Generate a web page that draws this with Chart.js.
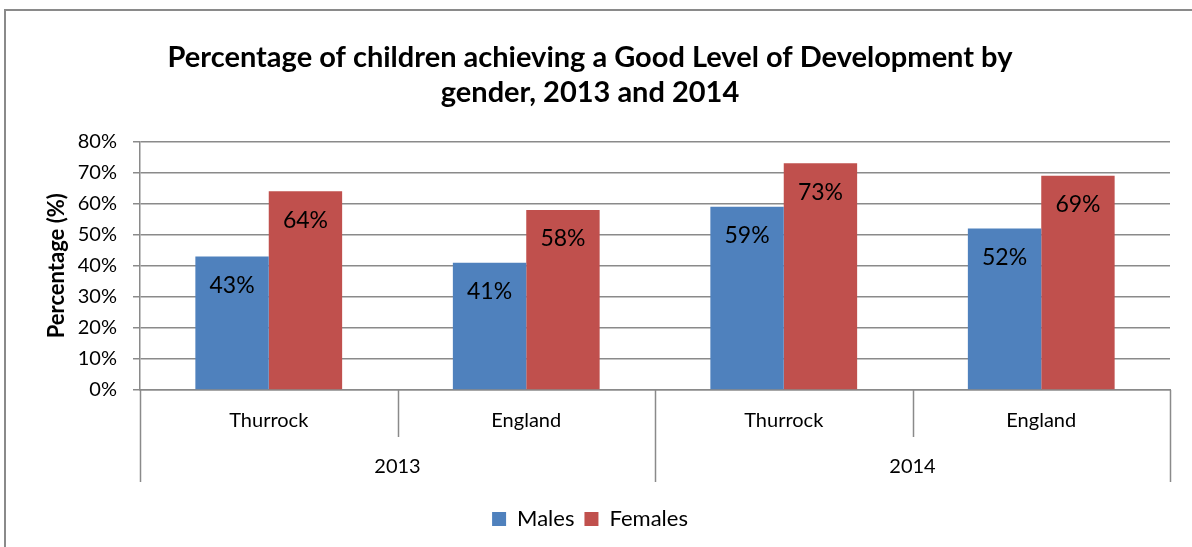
<!DOCTYPE html>
<html>
<head>
<meta charset="utf-8">
<script src="https://cdn.jsdelivr.net/npm/chart.js@4.4.1/dist/chart.umd.min.js"></script>
<style>
  html, body { margin: 0; padding: 0; background: #fff; }
  #wrap { width: 1192px; height: 547px; }
</style>
</head>
<body>
<div id="wrap"><canvas id="mycanvas" width="1192" height="547"></canvas></div>
<script>
// data
var categories = ['Thurrock', 'England', 'Thurrock', 'England'];
var groups = ['2013', '2014'];
var males = [43, 41, 59, 52];
var females = [64, 58, 73, 69];
var yMax = 80;
var yStep = 10;

var FONT = 'Lato, "Liberation Sans", sans-serif';
var GREY = '#8a8a8a';

// outer frame, category separators, group labels and value labels
var extras = {
	id: 'extras',
	beforeDraw: function(chart) {
		var c = chart.ctx;
		c.save();
		c.fillStyle = '#fff';
		c.fillRect(0, 0, chart.width, chart.height);
		c.strokeStyle = GREY;
		c.lineWidth = 2;
		c.strokeRect(5, 10, 1300, 700);
		c.restore();
	},
	afterDraw: function(chart) {
		var c = chart.ctx;
		var area = chart.chartArea;
		var n = categories.length;
		var w = (area.right - area.left) / n;
		var per = n / groups.length;
		c.save();
		c.strokeStyle = GREY;
		c.lineWidth = 1.5;
		for (var k = 0; k <= n; k++) {
			var x = Math.round(area.left + k * w) + 0.5;
			var yEnd = (k % per === 0) ? area.bottom + 92 : area.bottom + 47;
			c.beginPath();
			c.moveTo(x, area.bottom);
			c.lineTo(x, yEnd);
			c.stroke();
		}
		c.fillStyle = '#000';
		c.font = '20px ' + FONT;
		c.textAlign = 'center';
		c.textBaseline = 'middle';
		for (var g = 0; g < groups.length; g++) {
			var cx = area.left + (g * per + per / 2) * w;
			c.fillText(groups[g], cx, area.bottom + 77);
		}
		// value labels inside the bar tops
		c.font = '23px ' + FONT;
		chart.data.datasets.forEach(function(ds, di) {
			chart.getDatasetMeta(di).data.forEach(function(bar, i) {
				c.fillText(ds.data[i] + '%', bar.x, bar.y + 29);
			});
		});
		c.restore();
	}
};

var chartdata = {
	labels: categories,
	datasets: [
		{
			label: 'Males',
			backgroundColor: '#4F81BD',
			borderWidth: 0,
			data: males
		},
		{
			label: 'Females',
			backgroundColor: '#C0504D',
			borderWidth: 0,
			data: females
		}
	]
};

var ctx = document.getElementById('mycanvas');

var barGraph = new Chart(ctx, {
	type: 'bar',
	data: chartdata,
	plugins: [extras],
	options: {
		responsive: false,
		animation: false,
		layout: { padding: { left: 10, right: 22, top: 0, bottom: 7 } },
		datasets: {
			bar: { categoryPercentage: 0.57, barPercentage: 1.0 }
		},
		plugins: {
			title: {
				display: true,
				text: ['Percentage of children achieving a Good Level of Development by', 'gender, 2013 and 2014'],
				color: '#000',
				font: { family: FONT, size: 29, weight: 'bold', lineHeight: 1.2 },
				padding: { top: 40, bottom: 32 }
			},
			legend: {
				position: 'bottom',
				labels: {
					color: '#000',
					boxWidth: 14,
					boxHeight: 14,
					font: { family: FONT, size: 22 }
				}
			},
			tooltip: { enabled: false }
		},
		scales: {
			x: {
				afterFit: function(scale) { scale.height = 108; },
				grid: { display: false, drawTicks: false },
				border: { color: GREY, width: 1.5 },
				ticks: { color: '#000', padding: 19, font: { family: FONT, size: 20 } }
			},
			y: {
				min: 0,
				max: yMax,
				afterFit: function(scale) { scale.width = 130; },
				grid: { color: GREY, lineWidth: 1.5, tickLength: 7 },
				border: { color: GREY, width: 1.5 },
				ticks: {
					stepSize: yStep,
					color: '#000',
					padding: 16,
					font: { family: FONT, size: 20 },
					callback: function(v) { return v + '%'; }
				},
				title: {
					display: true,
					text: 'Percentage (%)',
					color: '#000',
					font: { family: FONT, size: 22, weight: 'bold' },
					padding: { top: 34, bottom: 0 }
				}
			}
		}
	}
});
</script>
</body>
</html>
